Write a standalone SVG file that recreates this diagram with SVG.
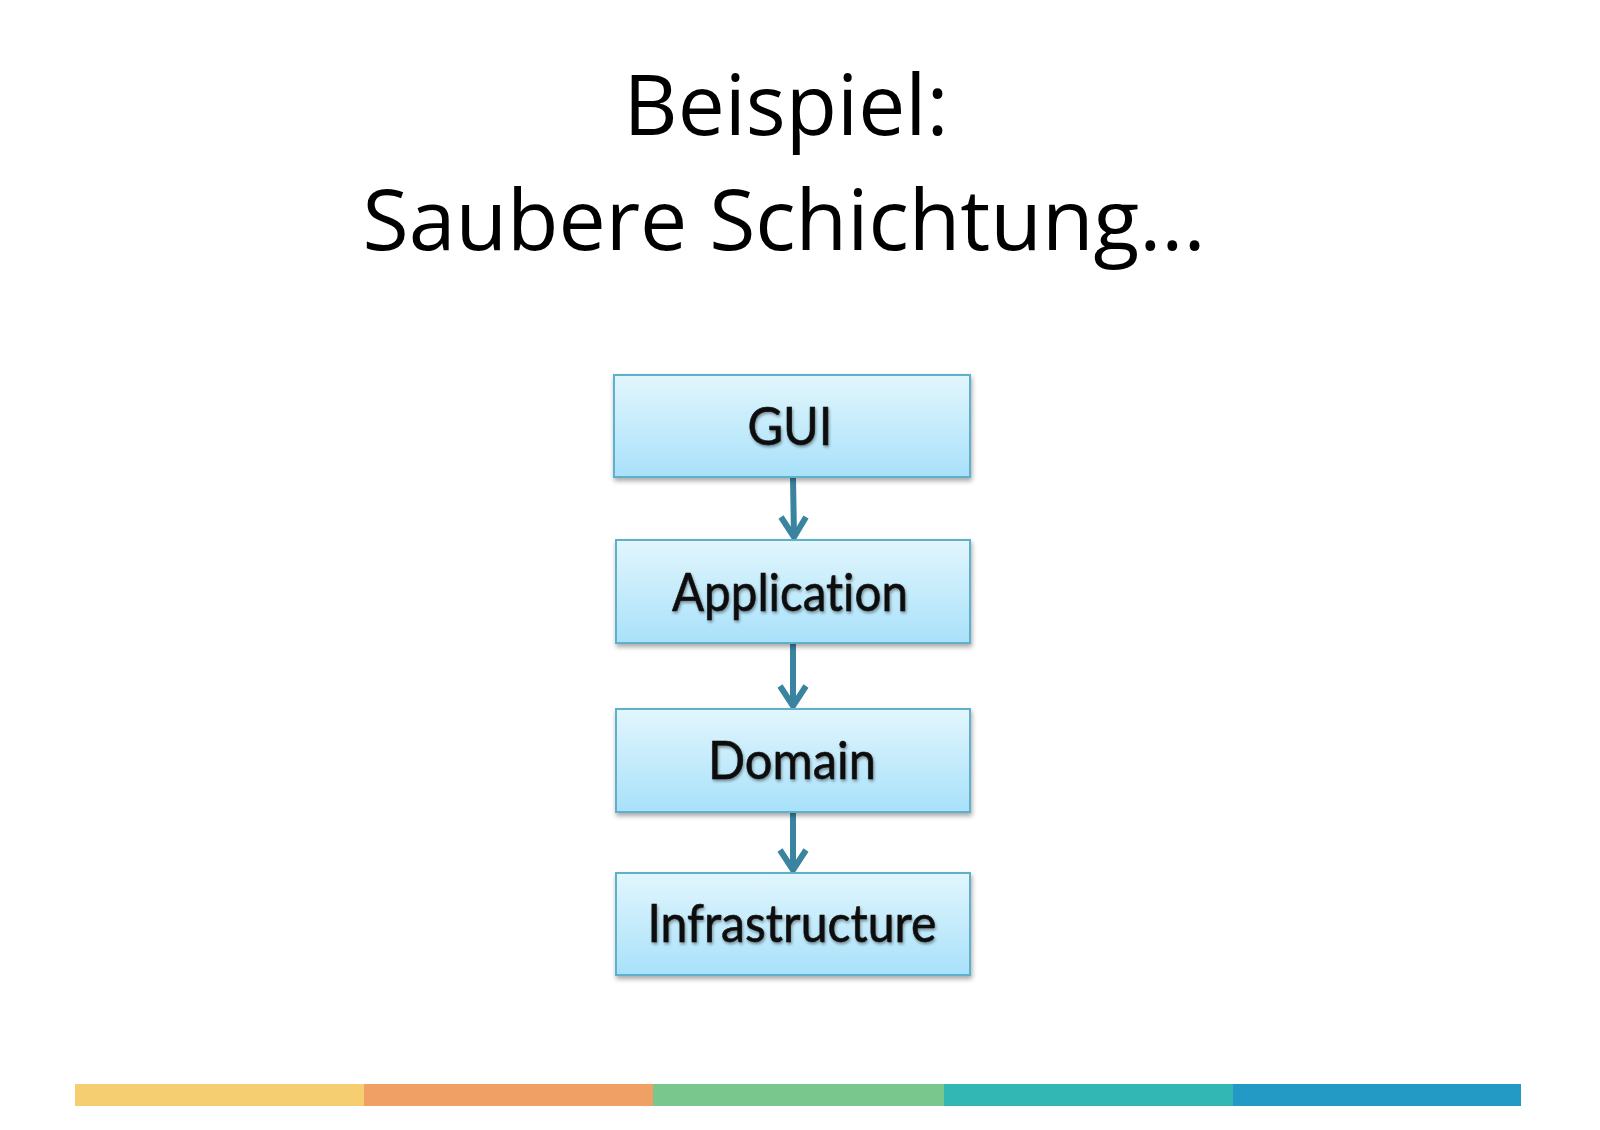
<svg xmlns="http://www.w3.org/2000/svg" width="1600" height="1130" viewBox="0 0 1600 1130">
<defs>
<linearGradient id="boxg" x1="0" y1="0" x2="0" y2="1">
<stop offset="0" stop-color="#E2F6FD"/>
<stop offset="1" stop-color="#A8E1FA"/>
</linearGradient>
<filter id="sh" x="-10%" y="-10%" width="120%" height="130%">
<feGaussianBlur in="SourceAlpha" stdDeviation="2.5"/>
<feOffset dx="1" dy="3" result="b"/>
<feComponentTransfer><feFuncA type="linear" slope="0.35"/></feComponentTransfer>
<feMerge><feMergeNode/><feMergeNode in="SourceGraphic"/></feMerge>
</filter>
<filter id="tsh" x="-10%" y="-20%" width="120%" height="150%">
<feGaussianBlur in="SourceAlpha" stdDeviation="1.5"/>
<feOffset dx="1" dy="2" result="b"/>
<feComponentTransfer><feFuncA type="linear" slope="0.4"/></feComponentTransfer>
<feMerge><feMergeNode/><feMergeNode in="SourceGraphic"/></feMerge>
</filter>
</defs>
<style>
.title{font-family:"Open Sans","Liberation Sans",sans-serif;font-size:84px;fill:#000;text-anchor:middle}
.box{fill:url(#boxg);stroke:#5FB1CB;stroke-width:2;filter:url(#sh)}
.lbl{font-family:Lato,"Liberation Sans",sans-serif;font-size:52px;fill:#111;text-anchor:middle;filter:url(#tsh);font-variant-ligatures:none;stroke:#111;stroke-width:0.6}
.conn{stroke:#3A84A0;stroke-width:6;fill:none}
</style>
<rect width="1600" height="1130" fill="#fff"/>
<g id="title">
<text class="title" x="786" y="135" textLength="325" lengthAdjust="spacingAndGlyphs">Beispiel:</text>
<text class="title" x="784" y="250" textLength="843" lengthAdjust="spacingAndGlyphs">Saubere Schichtung...</text>
</g>
<g id="connectors">
<path class="conn" d="M793,478 L794,536"/>
<path class="conn" d="M793,644 L793,705"/>
<path class="conn" d="M793,813 L793,869"/>
<path d="M781,517 L794,537 L806,517" class="conn" stroke-linejoin="miter"/>
<path d="M780,686 L793,706 L806,686" class="conn" stroke-linejoin="miter"/>
<path d="M780,850 L793,870 L806,850" class="conn" stroke-linejoin="miter"/>
</g>
<g id="gui">
<rect class="box" x="614" y="375" width="356" height="102"/>
<text class="lbl" x="790" y="445" textLength="85" lengthAdjust="spacingAndGlyphs">GUI</text>
</g>
<g id="application">
<rect class="box" x="616" y="540" width="354" height="103"/>
<text class="lbl" x="790" y="611" textLength="236" lengthAdjust="spacingAndGlyphs">Application</text>
</g>
<g id="domain">
<rect class="box" x="616" y="709" width="354" height="103"/>
<text class="lbl" x="792" y="779" textLength="168" lengthAdjust="spacingAndGlyphs">Domain</text>
</g>
<g id="infrastructure">
<rect class="box" x="616" y="873" width="354" height="102"/>
<text class="lbl" x="792" y="942" textLength="289" lengthAdjust="spacingAndGlyphs">Infrastructure</text>
</g>
<g id="bar">
<rect x="75" y="1084" width="289" height="22" fill="#F6CE72"/>
<rect x="364" y="1084" width="289" height="22" fill="#F09F65"/>
<rect x="653" y="1084" width="291" height="22" fill="#7AC78E"/>
<rect x="944" y="1084" width="289" height="22" fill="#33B7B5"/>
<rect x="1233" y="1084" width="288" height="22" fill="#2399C6"/>
</g>
</svg>
